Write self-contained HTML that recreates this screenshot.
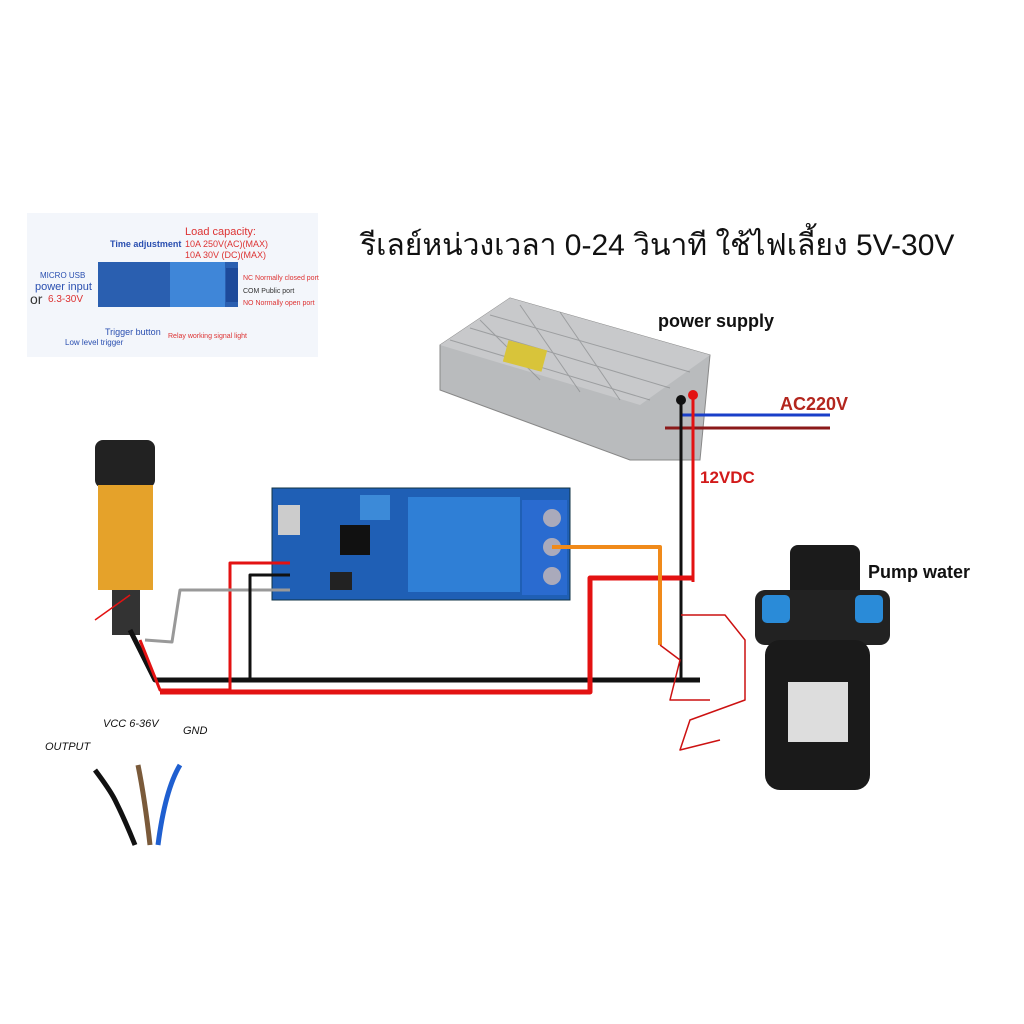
<!DOCTYPE html>
<html><head><meta charset="utf-8"><style>
html,body{margin:0;padding:0;background:#fff;width:1024px;height:1024px;overflow:hidden}
svg{display:block}
</style></head><body>
<svg width="1024" height="1024" viewBox="0 0 1024 1024" xmlns="http://www.w3.org/2000/svg" font-family="Liberation Sans, sans-serif">
<rect width="1024" height="1024" fill="#fff"/>
<!-- inset -->
<rect x="27" y="213" width="291" height="144" fill="#f3f6fb"/>
<rect x="98" y="262" width="140" height="45" fill="#2a5fb0"/>
<rect x="170" y="262" width="55" height="45" fill="#3f86d8"/>
<rect x="226" y="268" width="12" height="34" fill="#1d4a9a"/>
<text x="110" y="247" font-size="9" fill="#2a4fb0" font-weight="bold">Time adjustment</text>
<text x="185" y="235" font-size="11" fill="#d33">Load capacity:</text>
<text x="185" y="247" font-size="9" fill="#d33">10A 250V(AC)(MAX)</text>
<text x="185" y="258" font-size="9" fill="#d33">10A 30V (DC)(MAX)</text>
<text x="40" y="278" font-size="8" fill="#2a4fb0">MICRO USB</text>
<text x="35" y="290" font-size="11" fill="#2a4fb0">power input</text>
<text x="30" y="304" font-size="14" fill="#333">or</text>
<text x="48" y="302" font-size="10" fill="#d33">6.3-30V</text>
<text x="243" y="280" font-size="7" fill="#d33">NC Normally closed port</text>
<text x="243" y="293" font-size="7" fill="#333">COM Public port</text>
<text x="243" y="305" font-size="7" fill="#d33">NO Normally open port</text>
<text x="105" y="335" font-size="9" fill="#2a4fb0">Trigger button</text>
<text x="168" y="338" font-size="7" fill="#d33">Relay working signal light</text>
<text x="65" y="345" font-size="8" fill="#2a4fb0">Low level trigger</text>
<!-- title -->
<text x="360" y="255" font-size="30" fill="#111" font-family="Liberation Sans, sans-serif">รีเลย์หน่วงเวลา 0-24 วินาที ใช้ไฟเลี้ยง 5V-30V</text>
<!-- power supply -->
<polygon points="440,345 510,298 710,355 700,460 630,460 440,390" fill="#b9bbbd" stroke="#888"/>
<polygon points="440,345 510,298 710,355 640,405" fill="#c8c9cb"/>
<g stroke="#8a8c8e" stroke-width="1" opacity=".7">
<line x1="450" y1="340" x2="650" y2="400"/><line x1="470" y1="328" x2="670" y2="388"/><line x1="490" y1="315" x2="690" y2="372"/>
<line x1="480" y1="320" x2="540" y2="380"/><line x1="520" y1="305" x2="580" y2="392"/><line x1="560" y1="312" x2="620" y2="400"/></g>
<rect x="505" y="345" width="40" height="22" fill="#d8c43a" transform="rotate(15 525 356)"/>
<text x="658" y="327" font-size="18" font-weight="bold" fill="#111">power supply</text>
<!-- AC lines -->
<line x1="680" y1="415" x2="830" y2="415" stroke="#1a3fc9" stroke-width="3"/>
<line x1="665" y1="428" x2="830" y2="428" stroke="#8b1a1a" stroke-width="3"/>
<text x="780" y="410" font-size="18" font-weight="bold" fill="#b3261e">AC220V</text>
<!-- DC lines -->
<line x1="693" y1="395" x2="693" y2="582" stroke="#e31212" stroke-width="3"/>
<line x1="681" y1="400" x2="681" y2="682" stroke="#111" stroke-width="3"/>
<circle cx="693" cy="395" r="5" fill="#e31212"/><circle cx="681" cy="400" r="5" fill="#111"/>
<text x="700" y="483" font-size="17" font-weight="bold" fill="#d21a1a">12VDC</text>
<!-- relay board -->
<rect x="272" y="488" width="298" height="112" fill="#1f5fb5" stroke="#134" />
<rect x="408" y="497" width="112" height="95" fill="#2f7fd6"/>
<rect x="522" y="500" width="45" height="95" fill="#2a6bd0"/>
<circle cx="552" cy="518" r="9" fill="#aab"/><circle cx="552" cy="547" r="9" fill="#aab"/><circle cx="552" cy="576" r="9" fill="#aab"/>
<rect x="278" y="505" width="22" height="30" fill="#ccc"/>
<rect x="340" y="525" width="30" height="30" fill="#111"/>
<rect x="360" y="495" width="30" height="25" fill="#3c8ad8"/>
<rect x="330" y="572" width="22" height="18" fill="#222"/>
<!-- sensor -->
<rect x="95" y="440" width="60" height="48" rx="8" fill="#222"/>
<rect x="98" y="485" width="55" height="105" fill="#e5a22a"/>
<rect x="112" y="590" width="28" height="45" fill="#333"/>
<!-- wires -->
<g fill="none" stroke-linejoin="round">
<polyline points="130,630 155,680 700,680" stroke="#111" stroke-width="5"/>
<polyline points="140,640 160,690 230,690 230,563 290,563" stroke="#e31212" stroke-width="3"/>
<polyline points="160,692 590,692 590,578 693,578" stroke="#e31212" stroke-width="5"/>
<polyline points="145,640 172,642 180,590 290,590" stroke="#999" stroke-width="3"/>
<polyline points="250,680 250,575 290,575" stroke="#111" stroke-width="3"/>
<polyline points="552,547 660,547 660,645" stroke="#f08a1a" stroke-width="4"/>
<polyline points="681,615 725,615 745,640 745,700 690,720 680,750 720,740" stroke="#c11" stroke-width="1.5"/>
<polyline points="660,645 680,660 670,700 710,700" stroke="#c11" stroke-width="1.5"/>
<line x1="95" y1="620" x2="130" y2="595" stroke="#e31212" stroke-width="1.5"/>
</g>
<!-- pump -->
<rect x="790" y="545" width="70" height="95" rx="8" fill="#1b1b1b"/>
<rect x="755" y="590" width="135" height="55" rx="10" fill="#222"/>
<rect x="762" y="595" width="28" height="28" rx="5" fill="#2a8bd8"/>
<rect x="855" y="595" width="28" height="28" rx="5" fill="#2a8bd8"/>
<rect x="765" y="640" width="105" height="150" rx="15" fill="#1a1a1a"/>
<rect x="788" y="682" width="60" height="60" fill="#ddd"/>
<text x="868" y="578" font-size="18" font-weight="bold" fill="#111">Pump water</text>
<!-- bottom wires -->
<text x="45" y="750" font-size="11" font-style="italic" fill="#111">OUTPUT</text>
<text x="103" y="727" font-size="11" font-style="italic" fill="#111">VCC 6-36V</text>
<text x="183" y="734" font-size="11" font-style="italic" fill="#111">GND</text>
<path d="M95,770 Q110,790 115,800 Q125,820 135,845" stroke="#111" stroke-width="5" fill="none"/>
<path d="M138,765 Q145,800 150,845" stroke="#7a5a3a" stroke-width="5" fill="none"/>
<path d="M180,765 Q165,790 158,845" stroke="#1f5fd0" stroke-width="5" fill="none"/>
</svg>
</body></html>
